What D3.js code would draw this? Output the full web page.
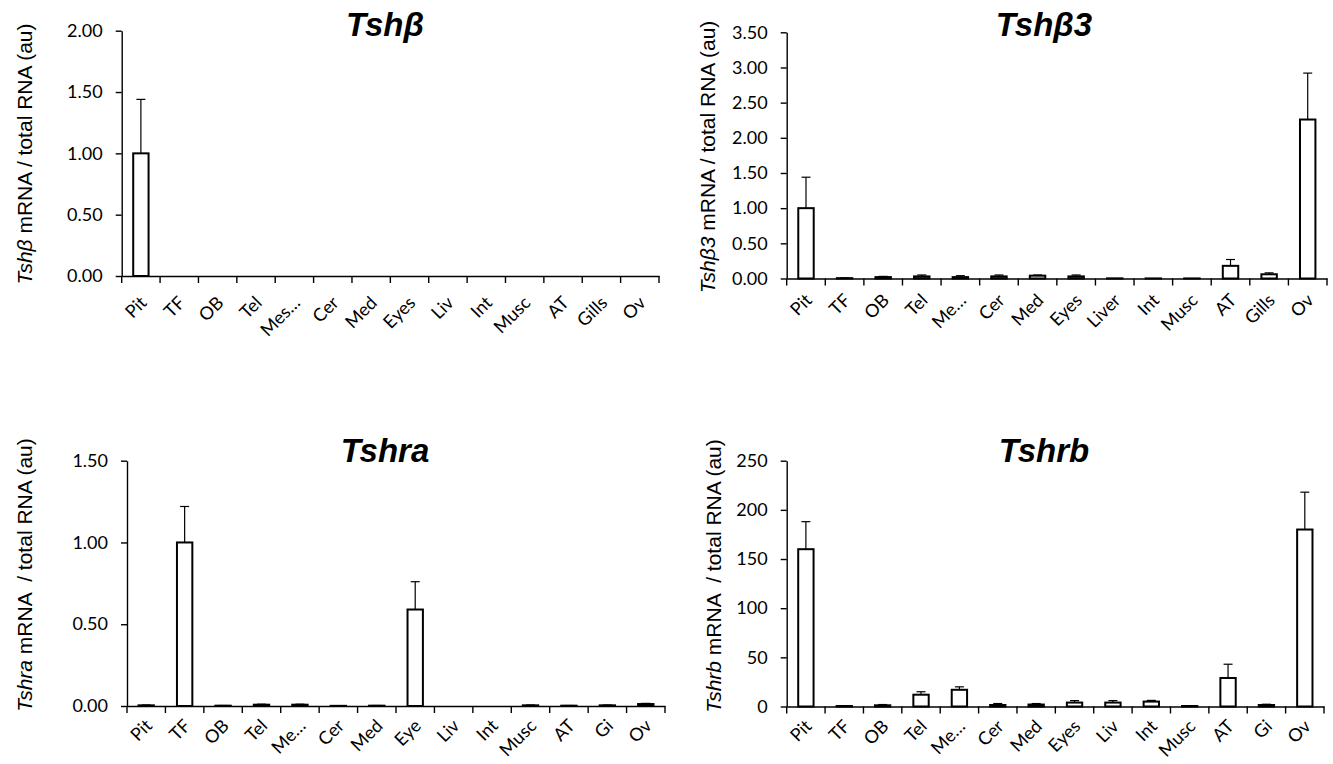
<!DOCTYPE html>
<html>
<head>
<meta charset="utf-8">
<script src="https://cdn.jsdelivr.net/npm/d3@7"></script>
<style>
    body { margin: 0; background: #fff; }
    .tick text { font-family: Lato, "Open Sans", sans-serif; font-size: 18px; fill: #000; }
    .xlab { font-family: Lato, "Open Sans", sans-serif; font-size: 18px; fill: #000; }
</style>
</head>
<body>
<script>
// Tshβ
const tshbCats = ["Pit", "TF", "OB", "Tel", "Mes…", "Cer", "Med", "Eyes", "Liv", "Int", "Musc", "AT", "Gills", "Ov"];
const tshbMeans = [1.00, 0, 0, 0, 0, 0, 0, 0, 0, 0, 0, 0, 0, 0];
const tshbErrs = [0.44, 0, 0, 0, 0, 0, 0, 0, 0, 0, 0, 0, 0, 0];
const tshbTicks = [0, 0.5, 1.0, 1.5, 2.0];

// Tshβ3
const tshb3Cats = ["Pit", "TF", "OB", "Tel", "Me…", "Cer", "Med", "Eyes", "Liver", "Int", "Musc", "AT", "Gills", "Ov"];
const tshb3Means = [1.00, 0.005, 0.02, 0.03, 0.02, 0.03, 0.04, 0.03, 0.002, 0.001, 0.001, 0.18, 0.06, 2.26];
const tshb3Errs = [0.44, 0.003, 0.01, 0.02, 0.02, 0.02, 0.01, 0.02, 0, 0, 0, 0.09, 0.02, 0.66];
const tshb3Ticks = [0, 0.5, 1.0, 1.5, 2.0, 2.5, 3.0, 3.5];

// Tshra
const tshraCats = ["Pit", "TF", "OB", "Tel", "Me…", "Cer", "Med", "Eye", "Liv", "Int", "Musc", "AT", "Gi", "Ov"];
const tshraMeans = [0.004, 1.00, 0.002, 0.008, 0.008, 0.001, 0.002, 0.59, 0, 0, 0.004, 0.002, 0.004, 0.012];
const tshraErrs = [0.002, 0.22, 0.001, 0.003, 0.003, 0, 0.001, 0.17, 0, 0, 0.002, 0.001, 0.002, 0.004];
const tshraTicks = [0, 0.5, 1.0, 1.5];

// Tshrb
const tshrbCats = ["Pit", "TF", "OB", "Tel", "Me…", "Cer", "Med", "Eyes", "Liv", "Int", "Musc", "AT", "Gi", "Ov"];
const tshrbMeans = [160, 0.5, 1.2, 12, 17, 1.5, 2, 4, 4, 5, 0.5, 29, 1.5, 180];
const tshrbErrs = [28, 0.3, 0.8, 3, 3, 1.5, 1, 2, 2, 1.2, 0.3, 14, 0.8, 38];
const tshrbTicks = [0, 50, 100, 150, 200, 250];

const panels = [
    { gene: "Tshβ", cats: tshbCats, means: tshbMeans, errs: tshbErrs, ticks: tshbTicks, fmt: ".2f",
      left: 121.7, right: 659, top: 30.7, bottom: 276, titleX: 385, titleY: 36, labX: 32, labY: 154, gap: " ", xlabDy: 28 },
    { gene: "Tshβ3", cats: tshb3Cats, means: tshb3Means, errs: tshb3Errs, ticks: tshb3Ticks, fmt: ".2f",
      left: 786.7, right: 1327, top: 32.3, bottom: 278.5, titleX: 1044, titleY: 36, labX: 715, labY: 157, gap: " ", xlabDy: 23 },
    { gene: "Tshra", cats: tshraCats, means: tshraMeans, errs: tshraErrs, ticks: tshraTicks, fmt: ".2f",
      left: 127, right: 665, top: 460.7, bottom: 706, titleX: 385, titleY: 462, labX: 32, labY: 575, gap: "  ", xlabDy: 21 },
    { gene: "Tshrb", cats: tshrbCats, means: tshrbMeans, errs: tshrbErrs, ticks: tshrbTicks, fmt: "d",
      left: 786.7, right: 1324, top: 460.7, bottom: 706.5, titleX: 1044, titleY: 462, labX: 721, labY: 576, gap: "  ", xlabDy: 21 }
];

const svg = d3.select("body")
    .append("svg")
    .attr("width", 1333)
    .attr("height", 764);

function drawPanel(p) {
    const x = d3.scaleBand()
        .domain(p.cats)
        .range([p.left, p.right])
        .paddingInner(0.6)
        .paddingOuter(0.3);
    const y = d3.scaleLinear()
        .domain([0, d3.max(p.ticks)])
        .range([p.bottom, p.top]);
    const mid = c => x(c) + x.bandwidth() / 2;

    const rows = p.cats.map((c, i) => ({ cat: c, mean: p.means[i], err: p.errs[i] }));
    const g = svg.append("g");

    // error bars (upper only)
    const eb = g.selectAll("g.err")
        .data(rows.filter(d => d.err > 0))
        .enter().append("g")
        .attr("class", "err")
        .style("stroke", "#000")
        .style("stroke-width", 1.2);
    eb.append("line")
        .attr("x1", d => mid(d.cat))
        .attr("x2", d => mid(d.cat))
        .attr("y1", d => y(d.mean))
        .attr("y2", d => y(d.mean + d.err));
    eb.append("line")
        .attr("x1", d => mid(d.cat) - 4.5)
        .attr("x2", d => mid(d.cat) + 4.5)
        .attr("y1", d => y(d.mean + d.err))
        .attr("y2", d => y(d.mean + d.err));

    g.selectAll("rect.bar")
        .data(rows)
        .enter().append("rect")
        .attr("class", "bar")
        .attr("x", d => x(d.cat))
        .attr("width", x.bandwidth())
        .attr("y", d => y(d.mean))
        .attr("height", d => y(0) - y(d.mean))
        .style("fill", "#fff")
        .style("stroke", "#000")
        .style("stroke-width", 2);

    // y axis
    const ya = g.append("g")
        .attr("transform", `translate(${p.left},0)`)
        .call(d3.axisLeft(y)
            .tickValues(p.ticks)
            .tickFormat(d3.format(p.fmt))
            .tickSize(6)
            .tickSizeOuter(0)
            .tickPadding(13));
    ya.selectAll("line, path").style("stroke", "#000").style("stroke-width", 1.4);

    // x axis line, labels drawn separately (turned 45 degrees)
    const xa = g.append("g")
        .attr("transform", `translate(0,${p.bottom})`)
        .call(d3.axisBottom(x).tickSize(0).tickSizeOuter(0));
    xa.select("path").style("stroke", "#000").style("stroke-width", 1.4);
    xa.selectAll("text").remove();

    g.selectAll("text.xlab")
        .data(p.cats)
        .enter().append("text")
        .attr("class", "xlab")
        .attr("transform", d => `translate(${mid(d) + 7},${p.bottom + p.xlabDy}) rotate(-45)`)
        .attr("text-anchor", "end")
        .text(d => d);

    // ticks between categories, like Excel
    g.selectAll("line.sep")
        .data(d3.range(p.cats.length + 1))
        .enter().append("line")
        .attr("class", "sep")
        .attr("x1", i => p.left + i * x.step())
        .attr("x2", i => p.left + i * x.step())
        .attr("y1", p.bottom)
        .attr("y2", p.bottom + 7)
        .style("stroke", "#000")
        .style("stroke-width", 1.4);

    // title
    g.append("text")
        .attr("x", p.titleX)
        .attr("y", p.titleY)
        .attr("text-anchor", "middle")
        .style("font-family", "'Liberation Sans', Arial, sans-serif")
        .style("font-weight", "bold")
        .style("font-style", "italic")
        .style("font-size", "33px")
        .text(p.gene);

    // y label
    const lab = g.append("text")
        .attr("transform", `translate(${p.labX},${p.labY}) rotate(-90)`)
        .attr("text-anchor", "middle")
        .attr("xml:space", "preserve")
        .style("white-space", "pre")
        .style("font-family", "'Liberation Sans', Arial, sans-serif")
        .style("font-size", "21px");
    lab.append("tspan").style("font-style", "italic").text(p.gene);
    lab.append("tspan").text(" mRNA" + p.gap + "/ total RNA (au)");
}

panels.forEach(drawPanel);
</script>
</body>
</html>
